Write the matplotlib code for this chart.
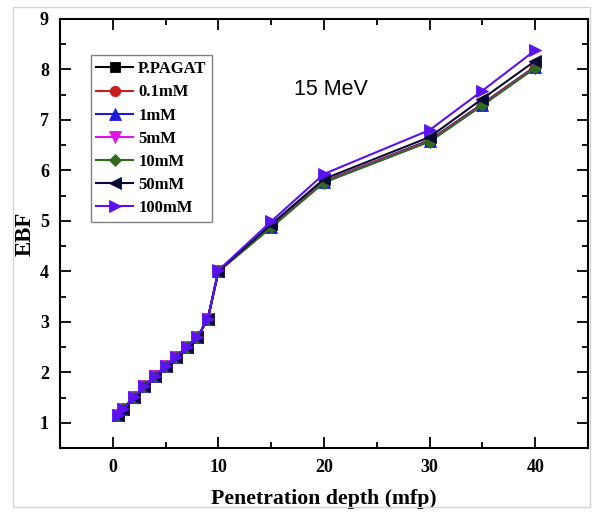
import matplotlib
matplotlib.use("Agg")
import matplotlib.pyplot as plt
from matplotlib.patches import Rectangle
from matplotlib.ticker import MultipleLocator

# penetration depth (mfp) shared by every dosimeter series
depth = [0.5, 1, 2, 3, 4, 5, 6, 7, 8, 9, 10, 15, 20, 30, 35, 40]

ebf_pagat = [1.15, 1.27, 1.51, 1.72, 1.93, 2.12, 2.31, 2.50, 2.69, 3.06, 4.00, 4.89, 5.78, 6.60, 7.32, 8.06]
ebf_01mm = [1.15, 1.27, 1.51, 1.72, 1.93, 2.12, 2.31, 2.50, 2.69, 3.06, 4.00, 4.89, 5.78, 6.59, 7.31, 8.05]
ebf_1mm = [1.15, 1.27, 1.51, 1.72, 1.93, 2.12, 2.31, 2.50, 2.69, 3.06, 4.00, 4.88, 5.77, 6.58, 7.30, 8.04]
ebf_5mm = [1.15, 1.27, 1.51, 1.72, 1.93, 2.12, 2.31, 2.50, 2.69, 3.06, 4.00, 4.88, 5.77, 6.58, 7.30, 8.04]
ebf_10mm = [1.15, 1.27, 1.51, 1.72, 1.93, 2.12, 2.31, 2.50, 2.69, 3.06, 4.00, 4.87, 5.76, 6.57, 7.29, 8.03]
ebf_50mm = [1.15, 1.27, 1.51, 1.72, 1.93, 2.12, 2.31, 2.50, 2.69, 3.06, 4.01, 4.93, 5.83, 6.66, 7.42, 8.17]
ebf_100mm = [1.15, 1.27, 1.51, 1.72, 1.93, 2.12, 2.31, 2.50, 2.69, 3.06, 4.02, 4.99, 5.93, 6.80, 7.58, 8.38]

labels = ["P.PAGAT", "0.1mM", "1mM", "5mM", "10mM", "50mM", "100mM"]
series = [ebf_pagat, ebf_01mm, ebf_1mm, ebf_5mm, ebf_10mm, ebf_50mm, ebf_100mm]
colors = ["#000000", "#C81E1E", "#1C1CD8", "#E012E8", "#2F6B1C", "#0A0A36", "#5A12EE"]
markers = ["s", "o", "^", "v", "D", "<", ">"]
sizes = [7, 7.5, 8, 8, 6.5, 8, 8.5]

serif = ["Liberation Serif", "DejaVu Serif"]

fig = plt.figure(figsize=(5.97, 5.13), dpi=100)
ax = fig.add_axes([0.1005, 0.1267, 0.8845, 0.8363])

# thin grey frame around the whole figure
fig.patches.append(Rectangle((0.022, 0.012), 0.967, 0.975, transform=fig.transFigure,
                             fill=False, edgecolor="#d4d4d4", linewidth=1.0))

for values, label, color, marker, size in zip(series, labels, colors, markers, sizes):
    ax.plot(depth, values, color=color, marker=marker, markersize=size,
            markeredgewidth=0.6, markeredgecolor=color, linewidth=1.5, label=label)

ax.set_xlim(-5, 45)
ax.set_ylim(0.5, 9)
ax.xaxis.set_major_locator(MultipleLocator(10))
ax.xaxis.set_minor_locator(MultipleLocator(5))
ax.yaxis.set_major_locator(MultipleLocator(1))
ax.yaxis.set_minor_locator(MultipleLocator(0.5))
ax.tick_params(which="both", direction="in", top=True, right=True, width=1.3)
ax.tick_params(which="major", length=8, pad=8)
ax.tick_params(which="minor", length=4.5)
for spine in ax.spines.values():
    spine.set_linewidth(1.5)

for tick in ax.get_xticklabels() + ax.get_yticklabels():
    tick.set_fontfamily(serif)
    tick.set_fontweight("bold")
    tick.set_fontsize(13)

ax.set_xlabel("Penetration depth (mfp)", fontfamily=serif, fontweight="bold",
              fontsize=15.7, labelpad=9)
ax.set_ylabel("EBF", fontfamily=serif, fontweight="bold", fontsize=16.5, labelpad=3)

ax.text(20.7, 7.61, "15 MeV", fontfamily=["Liberation Sans", "DejaVu Sans"],
        fontsize=15.5, ha="center", va="center")

legend = ax.legend(loc="upper left", bbox_to_anchor=(0.058, 0.915), borderaxespad=0,
                   prop={"family": serif, "weight": "bold", "size": 12},
                   fancybox=False, framealpha=1, edgecolor="#808080",
                   handlelength=2.2, labelspacing=0.43, handletextpad=0.3,
                   borderpad=0.35)
legend.get_frame().set_linewidth(1.0)

fig.savefig("out.png", dpi=100)
